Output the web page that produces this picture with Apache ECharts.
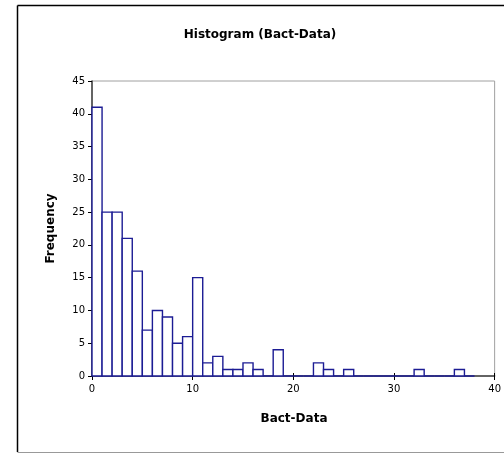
<!DOCTYPE html>
<html>
<head>
<meta charset="utf-8">
<script src="https://cdn.jsdelivr.net/npm/echarts@6/dist/echarts.min.js"></script>
<style>html,body{margin:0;padding:0;background:#fff;}#c{width:504px;height:453px;}</style>
</head>
<body>
<div id="c"></div>
<script>
var binStarts = [0,1,2,3,4,5,6,7,8,9,10,11,12,13,14,15,16,17,18,19,20,21,22,23,24,25,26,27,28,29,30,31,32,33,34,35,36,37];
var binWidth = 1;
var frequencies = [41,25,25,21,16,7,10,9,5,6,15,2,3,1,1,2,1,0,4,0,0,0,2,1,0,1,0,0,0,0,0,0,1,0,0,0,1,0];
var xTicks = [0,10,20,30,40];
var yTicks = [0,5,10,15,20,25,30,35,40,45];
var titleText = 'Histogram (Bact-Data)';
var xName = 'Bact-Data';
var yName = 'Frequency';

var data = binStarts.map(function(s,i){ return [s, s+binWidth, frequencies[i]]; });
var chart = echarts.init(document.getElementById('c'), null, {renderer:'canvas'});
var font = 'DejaVu Sans, sans-serif';
chart.setOption({
  animation:false,
  backgroundColor:'#fff',
  graphic:[
    {type:'line',shape:{x1:17.5,y1:5.5,x2:504,y2:5.5},style:{stroke:'#000',lineWidth:1.5},silent:true},
    {type:'line',shape:{x1:17.5,y1:5.5,x2:17.5,y2:452},style:{stroke:'#000',lineWidth:1.5},silent:true},
    {type:'line',shape:{x1:17.5,y1:452.5,x2:504,y2:452.5},style:{stroke:'#999',lineWidth:1},silent:true},
    {type:'text',x:260,y:29,style:{text:titleText,fontFamily:font,fontSize:12,fontWeight:'bold',fill:'#000',textAlign:'center',textVerticalAlign:'top'}},
    {type:'text',x:294,y:413,style:{text:xName,fontFamily:font,fontSize:12,fontWeight:'bold',fill:'#000',textAlign:'center',textVerticalAlign:'top'}}
  ],
  grid:{left:92,top:81,width:404,height:295,show:true,borderColor:'#a0a0a0',borderWidth:1,backgroundColor:'transparent'},
  xAxis:[{type:'value',min:xTicks[0],max:xTicks[xTicks.length-1],interval:10,position:'bottom',
    axisLine:{show:true,lineStyle:{color:'#404040',width:1.5}},
    axisTick:{show:true,inside:false,length:4,lineStyle:{color:'#000'}},
    axisLabel:{fontFamily:font,fontSize:10,color:'#000',margin:8},
    splitLine:{show:false}},
   {type:'value',min:xTicks[0],max:xTicks[xTicks.length-1],interval:10,position:'bottom',
    axisLine:{show:false},axisTick:{show:true,inside:true,length:3,lineStyle:{color:'#000'}},
    axisLabel:{show:false},splitLine:{show:false}}],
  yAxis:{type:'value',min:yTicks[0],max:yTicks[yTicks.length-1],interval:5,
    name:yName,nameLocation:'middle',nameGap:35,nameTextStyle:{fontFamily:font,fontSize:12,fontWeight:'bold',color:'#000'},
    axisLine:{show:true,lineStyle:{color:'#404040',width:1.5}},
    axisTick:{show:true,inside:false,length:4,lineStyle:{color:'#000'}},
    axisLabel:{fontFamily:font,fontSize:10,color:'#000',margin:7},
    splitLine:{show:false}},
  series:[{type:'custom',xAxisIndex:0,yAxisIndex:0,data:data,encode:{x:[0,1],y:2},
    renderItem:function(params,api){
      var p0 = api.coord([api.value(0), api.value(2)]);
      var p1 = api.coord([api.value(1), 0]);
      return {type:'rect',shape:{x:p0[0],y:p0[1],width:p1[0]-p0[0],height:p1[1]-p0[1]},
        style:{fill:'#fff',stroke:'#1c1c94',lineWidth:1.4}};
    }}]
});
</script>
</body>
</html>
